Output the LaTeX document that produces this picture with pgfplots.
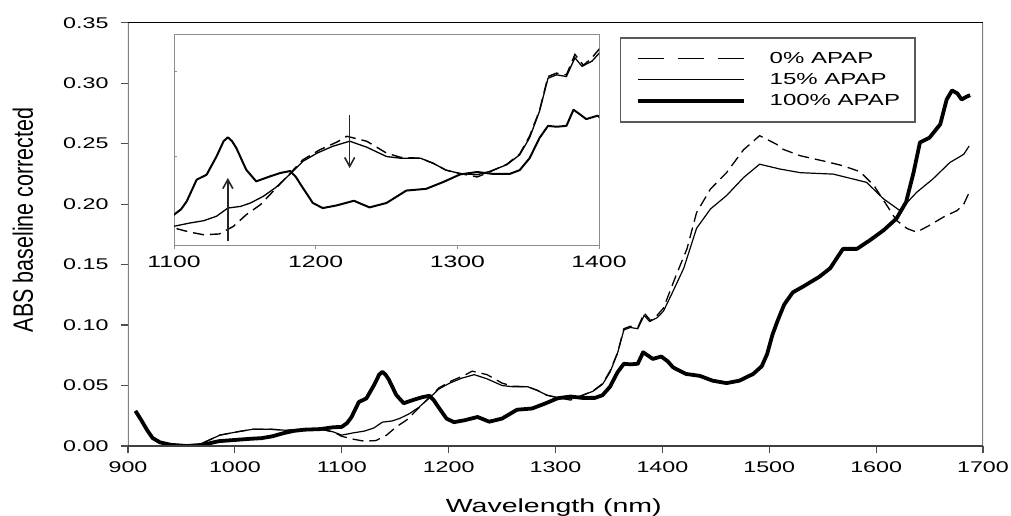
\documentclass[border=0pt]{standalone}
\usepackage{fontspec}
\setmainfont[FakeStretch=1.5]{Liberation Sans}
\newfontfamily\ylabfont{Liberation Sans}
\usepackage{graphicx}
\usepackage{pgfplots}
\usepackage{pgfplotstable}
\pgfplotsset{compat=1.18}
\usetikzlibrary{arrows.meta}

\pgfplotstableread{
x y
907 0.029
912 0.022
918 0.013
923 0.0066
930 0.003
940 0.001
955 0.000
965 0.001
970 0.0025
986 0.009
1002 0.0117
1017 0.0139
1033 0.0139
1048 0.013
1064 0.0139
1080 0.0139
1092 0.0117
1100 0.008
1111 0.0056
1121 0.004
1132 0.0045
1142 0.009
1151 0.0158
1161 0.0217
1170 0.0296
1180 0.0384
1191 0.0481
1203 0.054
1215 0.0585
1222 0.0619
1236 0.059
1250 0.052
1260 0.0495
1274 0.049
1283 0.046
1292 0.042
1302 0.040
1314 0.038
1323 0.041
1335 0.0455
1344 0.0515
1351 0.062
1358 0.077
1364 0.097
1370 0.099
1377 0.098
1383 0.110
1389 0.1036
1395 0.108
1401 0.114
1413 0.1415
1423 0.163
1432 0.193
1445 0.2125
1460 0.226
1476 0.245
1491 0.2566
1507 0.2494
1513 0.2453
1529 0.240
1554 0.235
1569 0.2317
1585 0.2268
1598 0.2153
1610 0.199
1619 0.1866
1629 0.1798
1638 0.1768
1650 0.1825
1663 0.1893
1676 0.1948
1682 0.200
1687 0.2095
}\dataA

\pgfplotstableread{
x y
907 0.029
912 0.022
918 0.013
923 0.0066
930 0.003
940 0.001
955 0.000
965 0.001
970 0.0025
986 0.009
1002 0.0117
1017 0.0139
1033 0.0139
1048 0.013
1064 0.0139
1080 0.0139
1092 0.0117
1100 0.0090
1111 0.0109
1121 0.0123
1130 0.0149
1138 0.0197
1147 0.0207
1154 0.0227
1163 0.0266
1172 0.0319
1184 0.0413
1191 0.0472
1201 0.052
1212 0.056
1224 0.059
1236 0.0555
1250 0.050
1260 0.049
1274 0.049
1283 0.046
1292 0.042
1302 0.040
1314 0.0393
1323 0.0413
1335 0.0452
1344 0.051
1351 0.061
1358 0.0766
1364 0.096
1370 0.098
1377 0.097
1383 0.108
1388 0.103
1395 0.106
1401 0.1115
1410 0.128
1420 0.147
1432 0.180
1445 0.196
1460 0.207
1476 0.222
1491 0.233
1510 0.229
1529 0.226
1560 0.2248
1591 0.218
1607 0.2043
1622 0.1948
1638 0.2098
1653 0.2207
1669 0.2344
1682 0.2412
1687 0.248
}\dataB

\pgfplotstableread{
x y
907 0.029
912 0.022
918 0.013
923 0.0066
930 0.003
940 0.001
955 0.000
970 0.001
985 0.004
1000 0.005
1015 0.006
1025 0.0065
1035 0.008
1045 0.0105
1055 0.0125
1065 0.0135
1080 0.014
1092 0.0155
1100 0.0158
1105 0.019
1109 0.0237
1116 0.0364
1123 0.0393
1130 0.050
1135 0.059
1138 0.0613
1141 0.059
1144 0.055
1151 0.0422
1158 0.0354
1168 0.0384
1175 0.0403
1182 0.0415
1186 0.038
1191 0.0315
1198 0.0227
1205 0.0197
1215 0.0213
1227 0.0240
1238 0.0201
1250 0.0227
1264 0.030
1278 0.031
1290 0.035
1302 0.0395
1314 0.0409
1325 0.0398
1337 0.0398
1344 0.042
1351 0.049
1358 0.0609
1364 0.068
1370 0.0675
1377 0.068
1382 0.0775
1387 0.0745
1391 0.072
1399 0.074
1405 0.070
1410 0.065
1422 0.0596
1435 0.058
1447 0.054
1460 0.052
1472 0.054
1485 0.0596
1493 0.066
1498 0.0760
1503 0.0920
1508 0.104
1514 0.117
1522 0.127
1532 0.132
1547 0.140
1557 0.147
1569 0.163
1582 0.163
1594 0.170
1607 0.1784
1619 0.188
1628 0.2016
1635 0.226
1641 0.251
1650 0.255
1660 0.266
1666 0.2865
1671 0.294
1676 0.2915
1680 0.2865
1685 0.289
1688 0.290
}\dataC

\begin{document}
\begin{tikzpicture}
\useasboundingbox (-128pt,-69pt) rectangle (883pt,446pt);
\begin{axis}[
  at={(0pt,0pt)}, anchor=south west,
  scale only axis, width=855pt, height=423.3pt,
  xmin=900, xmax=1700, ymin=0, ymax=0.35,
  xtick={900,1000,1100,1200,1300,1400,1500,1600,1700},
  ytick={0,0.05,0.1,0.15,0.2,0.25,0.3,0.35},
  axis line style={draw=none},
  tick align=outside, xtick pos=bottom, ytick pos=left,
  major tick length=7pt,
  tick style={line width=1.2pt, color=black!70},
  /pgf/number format/assume math mode=true,
  tick label style={font=\fontsize{15.5}{18}\selectfont},
  x tick label style={/pgf/number format/1000 sep={}, yshift=-5pt},
  y tick label style={/pgf/number format/.cd, fixed, fixed zerofill, precision=2, /tikz/.cd, xshift=-9pt},
  xlabel={Wavelength (nm)},
  ylabel={\scalebox{1}[1.3]{\ylabfont\fontsize{21.5}{24}\selectfont ABS baseline corrected}},
  every axis x label/.style={at={(axis description cs:0.498,-0.156)}, anchor=base, font=\fontsize{19}{22}\selectfont},
  every axis y label/.style={at={(axis description cs:-0.1228,0.534)}, rotate=90, anchor=center},
  legend style={at={(axis description cs:0.5754,0.9662)}, anchor=north west, draw=black!65, line width=1.5pt, inner xsep=15pt, inner ysep=14pt, row sep=7pt, font=\fontsize{16}{19}\selectfont, nodes={inner sep=0pt, text height=12pt, text depth=2pt}, fill=white},
  legend cell align=left,
  legend image code/.code={\draw[#1] (0pt,0pt) -- (106pt,0pt);},
]
\addlegendimage{black, line width=1.3pt, dash pattern=on 26pt off 14pt}
\addlegendentry{\hspace*{24pt}0\% APAP}
\addlegendimage{black, line width=1.2pt}
\addlegendentry{\hspace*{24pt}15\% APAP}
\addlegendimage{black, line width=4pt}
\addlegendentry{\hspace*{24pt}100\% APAP}
\addplot[forget plot, black, line width=1.3pt, dash pattern=on 11pt off 6pt] table {\dataA};
\addplot[forget plot, black, line width=1.2pt] table {\dataB};
\addplot[forget plot, black, line width=3.8pt, line join=round] table {\dataC};
\draw[black!50, line width=3pt] (rel axis cs:0,0) -- (rel axis cs:0,1);
\draw[black!50, line width=2pt] (rel axis cs:1,0) -- (rel axis cs:1,1);
\draw[black, line width=1pt] (rel axis cs:0,1) -- (rel axis cs:1,1);
\draw[black!75, line width=2pt] (rel axis cs:0,0) -- (rel axis cs:1,0);
\end{axis}
\begin{axis}[
  at={(46pt,201pt)}, anchor=south west,
  scale only axis, width=425pt, height=211pt,
  xmin=1100, xmax=1400, ymin=-0.002, ymax=0.122,
  axis background/.style={fill=white},
  axis line style={draw=black!45, line width=0.9pt},
  xtick={1100,1200,1300,1400},
  ytick=\empty,
  extra y ticks={0.05,0.1}, extra y tick labels={},
  extra y tick style={tick align=inside, major tick length=3pt},
  tick align=outside, xtick pos=bottom, ytick pos=left,
  major tick length=4pt,
  tick style={line width=0.9pt, color=black!45},
  /pgf/number format/assume math mode=true,
  x tick label style={/pgf/number format/1000 sep={}, font=\fontsize{16.5}{19}\selectfont, yshift=-3pt},
]
\addplot[black, line width=1.4pt, dash pattern=on 11pt off 6pt] table {\dataA};
\addplot[black, line width=1.3pt] table {\dataB};
\addplot[black, line width=2pt, line join=round] table {\dataC};
\draw[black!85, line width=1.6pt, -{Straight Barb[length=9pt,width=10pt]}] (axis cs:1138,0.0004) -- (axis cs:1138,0.0374);
\draw[black!85, line width=1.6pt, -{Straight Barb[length=9pt,width=10pt]}] (axis cs:1224,0.0742) -- (axis cs:1224,0.0432);
\end{axis}
\end{tikzpicture}
\end{document}
